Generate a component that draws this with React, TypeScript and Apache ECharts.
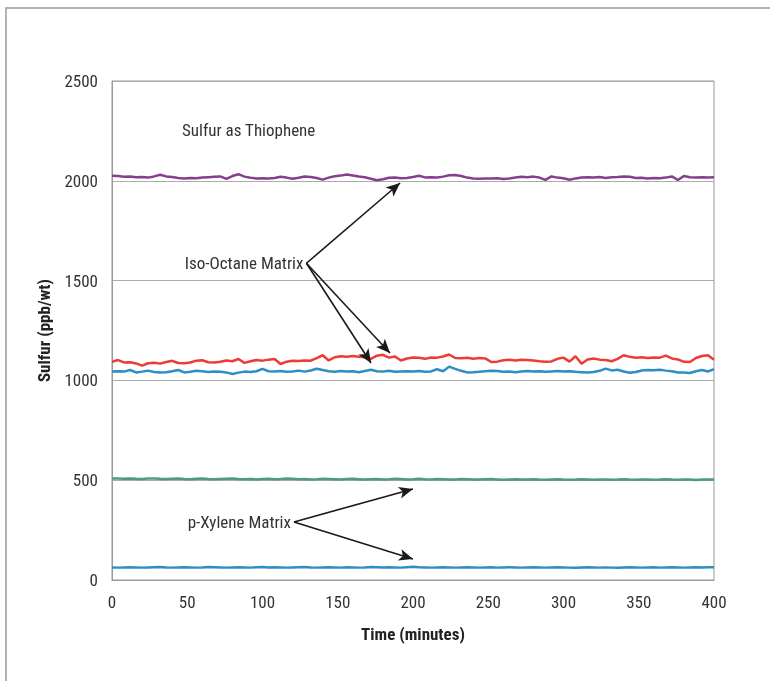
import React, { useEffect, useRef } from "react";
import * as echarts from "echarts";

const times = [0,4,8,12,16,20,24,28,32,36,40,44,48,52,56,60,64,68,72,76,80,84,88,92,96,100,104,108,112,116,120,124,128,132,136,140,144,148,152,156,160,164,168,172,176,180,184,188,192,196,200,204,208,212,216,220,224,228,232,236,240,244,248,252,256,260,264,268,272,276,280,284,288,292,296,300,304,308,312,316,320,324,328,332,336,340,344,348,352,356,360,364,368,372,376,380,384,388,392,396,400];

const thiophene = [2025,2024,2020,2021,2018,2019,2016,2022,2030,2022,2019,2014,2012,2014,2013,2016,2018,2020,2022,2010,2024,2033,2021,2015,2012,2013,2011,2014,2020,2016,2010,2015,2022,2019,2014,2006,2016,2023,2026,2032,2027,2022,2018,2010,2003,2008,2015,2017,2013,2014,2019,2025,2017,2018,2016,2021,2028,2029,2024,2016,2011,2010,2012,2011,2013,2009,2012,2016,2020,2018,2021,2016,2005,2022,2016,2013,2005,2012,2017,2018,2016,2019,2014,2018,2019,2022,2020,2014,2015,2012,2014,2013,2016,2022,2004,2024,2018,2016,2018,2017,2018];

const isoOctaneHigh = [1093,1102,1090,1091,1085,1074,1086,1088,1084,1092,1098,1087,1086,1090,1099,1101,1091,1090,1093,1100,1096,1107,1088,1096,1102,1099,1104,1107,1082,1094,1098,1097,1100,1099,1112,1126,1100,1116,1121,1118,1122,1119,1116,1108,1124,1128,1114,1120,1100,1110,1115,1113,1108,1115,1114,1120,1130,1112,1111,1113,1109,1112,1110,1092,1094,1101,1103,1100,1104,1102,1100,1096,1094,1095,1108,1114,1094,1121,1083,1105,1110,1104,1102,1096,1108,1126,1118,1114,1116,1112,1115,1114,1124,1110,1105,1093,1092,1112,1122,1126,1104];

const isoOctaneLow = [1045,1046,1044,1052,1040,1044,1049,1042,1039,1041,1046,1052,1040,1043,1048,1046,1042,1044,1043,1040,1032,1039,1044,1042,1046,1058,1046,1044,1047,1043,1045,1049,1044,1050,1058,1052,1046,1043,1047,1044,1046,1041,1047,1053,1046,1044,1048,1043,1045,1046,1044,1047,1043,1045,1056,1046,1069,1058,1048,1040,1041,1043,1046,1048,1047,1043,1044,1041,1045,1047,1044,1046,1043,1045,1047,1044,1046,1043,1041,1039,1042,1048,1059,1050,1053,1045,1038,1042,1050,1052,1051,1053,1049,1046,1040,1039,1037,1046,1052,1045,1056];

const xyleneHigh = [509,508,507,509,507,506,508,509,507,506,507,508,506,505,507,508,506,505,506,507,508,506,505,506,504,506,507,505,506,508,507,505,506,504,505,507,506,505,504,506,507,505,503,505,506,504,505,507,506,504,505,507,505,504,506,505,503,504,506,505,504,503,505,506,504,502,504,505,503,504,505,503,502,504,505,503,502,503,505,504,502,503,504,502,503,505,503,502,504,503,502,503,505,503,502,504,503,501,503,504,503];

const xyleneLow = [63,62,63,64,63,62,63,64,65,63,62,63,64,63,62,63,65,64,63,62,63,64,63,62,64,65,63,64,63,62,63,64,65,63,62,63,64,63,62,64,63,62,63,65,64,63,64,63,62,64,66,64,63,62,63,64,63,62,63,64,63,62,63,64,62,63,64,63,62,63,64,63,62,63,64,63,62,61,63,64,63,62,63,62,61,63,64,63,62,63,64,62,63,64,63,62,63,64,63,64,64];

const yTicks = [0, 500, 1000, 1500, 2000, 2500];
const xTicks = [0, 50, 100, 150, 200, 250, 300, 350, 400];

// annotation anchors in data units
const isoLabelAt = [129.2, 1587];
const isoTargets = [[191.4, 1989], [184.7, 1137], [172.1, 1087]];
const xyleneLabelAt = [120.9, 291];
const xyleneTargets = [[200, 456], [200, 105]];
const thiopheneLabelAt = [46.5, 2254];

const FONT = '"Liberation Sans Narrow", "Roboto Condensed", "DejaVu Sans Condensed", "Liberation Sans", sans-serif';

const pair = (vals: number[]) => vals.map((v, i) => [times[i], v]);

export default function App() {
  const ref = useRef<HTMLDivElement>(null);
  useEffect(() => {
    if (!ref.current) return;
    const chart = echarts.init(ref.current, null, { renderer: "svg" });
    const lineSeries = (name: string, vals: number[], color: string, extra: any = {}) => ({
      name,
      type: "line",
      data: pair(vals),
      showSymbol: false,
      symbol: "none",
      lineStyle: { color, width: 2.5 },
      itemStyle: { color },
      z: 3,
      ...extra,
    });
    const arrowData = [
      ...isoTargets.map((t) => [{ coord: isoLabelAt }, { coord: t }]),
      ...xyleneTargets.map((t) => [{ coord: xyleneLabelAt }, { coord: t }]),
    ];
    chart.setOption({
      animation: false,
      graphic: [
        {
          type: "rect",
          shape: { x: 6, y: 8, width: 800, height: 720 },
          style: { fill: "none", stroke: "#9a9a9a", lineWidth: 1.5 },
          silent: true,
          z: -10,
        },
      ],
      grid: {
        left: 112,
        right: 56,
        top: 81,
        bottom: 101,
        show: true,
        borderColor: "#9a9a9a",
        borderWidth: 1,
      },
      xAxis: {
        type: "value",
        min: 0,
        max: 400,
        interval: 50,
        name: "Time (minutes)",
        nameLocation: "middle",
        nameGap: 45,
        nameTextStyle: { fontFamily: FONT, fontWeight: "bold", fontSize: 17, color: "#222" },
        axisLine: { show: true, lineStyle: { color: "#9a9a9a" } },
        axisTick: { show: false },
        splitLine: { show: false },
        axisLabel: {
          fontFamily: FONT,
          fontSize: 17,
          color: "#333",
          margin: 13,
          formatter: (v: number) => (xTicks.includes(v) ? String(v) : ""),
        },
      },
      yAxis: {
        type: "value",
        min: 0,
        max: 2500,
        interval: 500,
        name: "Sulfur (ppb/wt)",
        nameLocation: "middle",
        nameGap: 60,
        nameTextStyle: { fontFamily: FONT, fontWeight: "bold", fontSize: 17, color: "#222" },
        axisLine: { show: true, lineStyle: { color: "#9a9a9a" } },
        axisTick: { show: false },
        splitLine: { show: true, lineStyle: { color: "#ababab", width: 1 } },
        axisLabel: {
          fontFamily: FONT,
          fontSize: 17,
          color: "#333",
          margin: 14,
          formatter: (v: number) => (yTicks.includes(v) ? String(v) : ""),
        },
      },
      series: [
        lineSeries("Sulfur as Thiophene (Iso-Octane)", thiophene, "#84408c", {
          markPoint: {
            silent: true,
            symbol: "circle",
            symbolSize: 0,
            data: [
              {
                name: "Sulfur as Thiophene",
                coord: thiopheneLabelAt,
                label: { position: "right", distance: 0 },
              },
              {
                name: "Iso-Octane Matrix",
                coord: isoLabelAt,
                label: { position: "left", distance: 3 },
              },
              {
                name: "p-Xylene Matrix",
                coord: xyleneLabelAt,
                label: { position: "left", distance: 3 },
              },
            ],
            label: {
              show: true,
              formatter: "{b}",
              fontFamily: FONT,
              fontSize: 17,
              color: "#333",
            },
          },
        }),
        lineSeries("Iso-Octane high", isoOctaneHigh, "#ee3b35"),
        lineSeries("Iso-Octane low", isoOctaneLow, "#2e8dc3"),
        lineSeries("p-Xylene high", xyleneHigh, "#4f9a80", {
          markLine: {
            silent: true,
            symbol: ["none", "arrow"],
            symbolSize: [9, 14],
            label: { show: false },
            lineStyle: { color: "#1a1a1a", width: 1.6, type: "solid" },
            emphasis: { disabled: true },
            data: arrowData,
          },
        }),
        lineSeries("p-Xylene low", xyleneLow, "#2e8dc3"),
      ],
    });
    return () => chart.dispose();
  }, []);
  return (
    <div
      ref={ref}
      style={{ position: "fixed", left: 0, top: 0, width: 770, height: 681 }}
    />
  );
}
